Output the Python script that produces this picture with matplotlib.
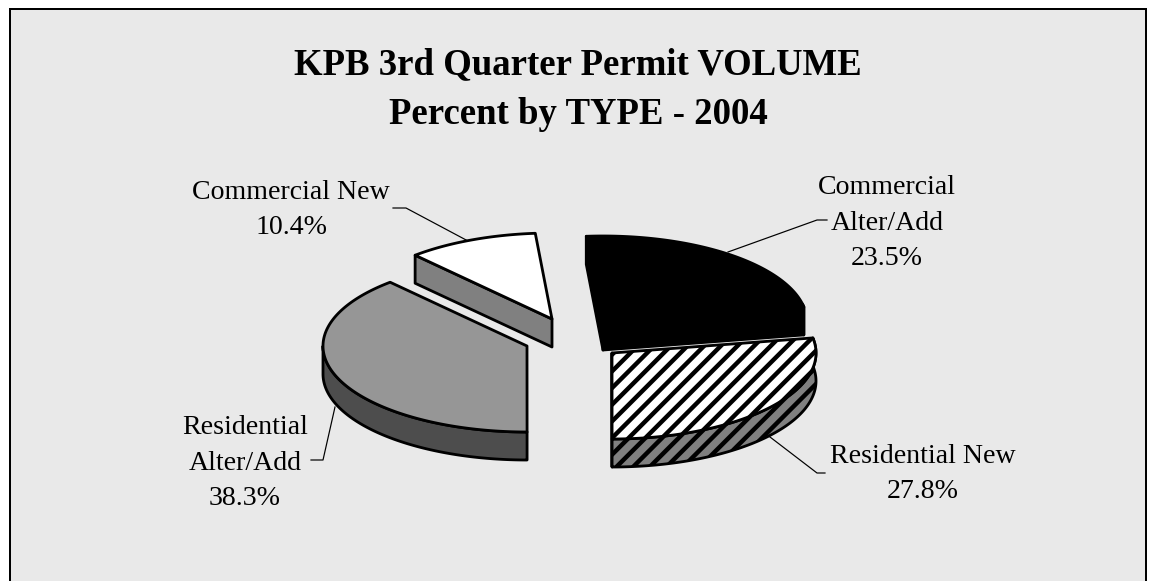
import numpy as np
import matplotlib
matplotlib.use("Agg")
import matplotlib.pyplot as plt
from matplotlib.patches import Polygon, Rectangle

categories = ["Commercial Alter/Add", "Residential New", "Residential Alter/Add", "Commercial New"]
percents = [23.5, 27.8, 38.3, 10.4]
label_texts = ["Commercial\nAlter/Add\n23.5%", "Residential New\n27.8%", "Residential\nAlter/Add\n38.3%", "Commercial New\n10.4%"]
title_text = "KPB 3rd Quarter Permit VOLUME\nPercent by TYPE - 2004"

top_colors = ["#000000", "#ffffff", "#969696", "#ffffff"]
side_colors = ["#000000", "#808080", "#4d4d4d", "#808080"]
hatches = [None, "//", None, None]
centers = [(603, 322), (612, 353), (527, 346), (552, 319)]
label_pos = [(887, 223), (923, 474), (245, 463), (291, 210)]
leaders = [[(728, 252), (817, 220), (827, 220)],
           [(770, 437), (817, 473), (825, 473)],
           [(335, 407), (323, 460), (311, 460)],
           [(468, 241), (406, 208), (393, 208)]]
draw_order = [0, 3, 2, 1]
first_slice_angle = -4.7
rx, ry, depth = 204, 86, 28

W, H, DPI = 1149, 581, 100
PX = 72 / DPI
plt.rcParams["font.family"] = ["Liberation Serif", "DejaVu Serif"]
plt.rcParams["hatch.linewidth"] = 3.2

fig = plt.figure(figsize=(W / DPI, H / DPI), dpi=DPI, facecolor="white")
ax = fig.add_axes([0, 0, 1, 1])
ax.set_xlim(0, W)
ax.set_ylim(H, 0)
ax.axis("off")

# Chart area: bottom edge runs past the image
ax.add_patch(Rectangle((9.5, 9), 1136.5, 600, fc="#e9e9e9", ec="black", lw=2 * PX, zorder=0))

def pt(c, a, dy=0):
    a = np.radians(a)
    return np.column_stack([c[0] + rx * np.sin(a), c[1] - ry * np.cos(a) + dy])

fractions = np.array(percents) / sum(percents)
edges = first_slice_angle + 360 * np.concatenate([[0], np.cumsum(fractions)])
LW = 2.8 * PX

for i in draw_order:
    c = centers[i]
    a0, a1 = edges[i], edges[i + 1]
    arc = pt(c, np.linspace(a0, a1, 200))
    apex = np.array([c])
    # radial walls that face the viewer
    for ang, facing in ((a0, np.sin(np.radians(a0)) < -1e-6), (a1, np.sin(np.radians(a1)) > 1e-6)):
        if facing:
            e = pt(c, np.array([ang]))[0]
            wall = np.array([c, e, e + [0, depth], [c[0], c[1] + depth]])
            ax.add_patch(Polygon(wall, fc=side_colors[i], ec="black", lw=LW, joinstyle="round"))
    # outer wall
    lo, hi = max(a0, 78), min(a1, 270)
    if hi > lo:
        wa = pt(c, np.linspace(lo, hi, 200))
        wb = wa + [0, depth]
        ax.add_patch(Polygon(np.vstack([wa, wb[::-1]]), fc=side_colors[i], ec="black", lw=LW,
                             hatch=hatches[i], joinstyle="round"))
    ax.add_patch(Polygon(np.vstack([apex, arc]), fc=top_colors[i], ec="black", lw=LW,
                         hatch=hatches[i], joinstyle="round"))

for line in leaders:
    xs, ys = zip(*line)
    ax.plot(xs, ys, color="black", lw=1.2 * PX, zorder=0.5)

ax.text(578, 89.5, title_text, ha="center", va="center", fontsize=36.8 * PX, fontweight="bold",
        linespacing=1.56)
for txt, (x, y) in zip(label_texts, label_pos):
    ax.text(x, y, txt, ha="center", va="center", fontsize=27.9 * PX, linespacing=1.53)

fig.savefig("out.png", dpi=DPI, facecolor="white")
